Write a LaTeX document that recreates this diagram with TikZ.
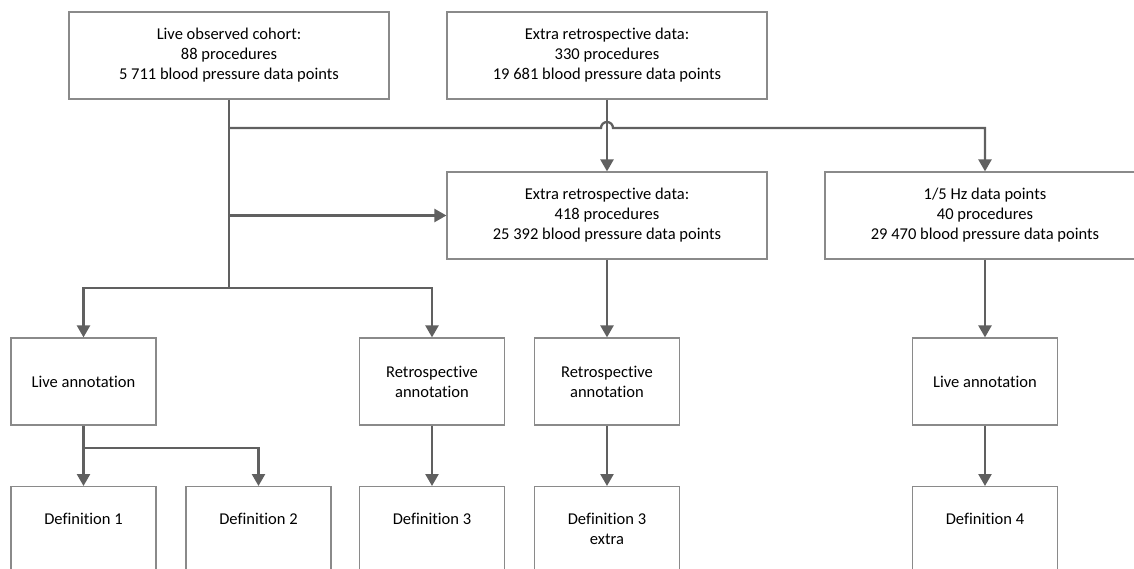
\documentclass[tikz,border=0pt]{standalone}
\usepackage{fontspec}
\setmainfont{Carlito}[Ligatures={NoCommon,NoRequired}]
\usetikzlibrary{arrows.meta}

\definecolor{boxgray}{HTML}{8A8A8A}
\definecolor{linegray}{HTML}{606060}

\tikzset{
	bigbox/.style={draw=boxgray, line width=0.7pt, minimum width=6.4cm, minimum height=1.74cm, align=center, inner sep=0pt, font=\fontsize{9.4}{11.4}\selectfont},
	smallbox/.style={bigbox, minimum width=2.9cm},
	defbox/.style={smallbox, anchor=north, text height=0.76cm, text depth=1.3cm},
	conn/.style={draw=linegray, line width=1.3pt},
	connarrow/.style={conn, -{Triangle[width=7.4pt,length=6.8pt]}}
}

\begin{document}
\begin{tikzpicture}
		\useasboundingbox (0, 0) rectangle (22.68, -11.38);
		
		\node[bigbox] (cohort) at (4.58, -1.11) {Live observed cohort:\\88 procedures\\5 711 blood pressure data points};
		\node[bigbox] (extra) at (12.14, -1.11) {Extra retrospective data:\\330 procedures\\19 681 blood pressure data points};
		\node[bigbox] (merged) at (12.14, -4.31) {Extra retrospective data:\\418 procedures\\25 392 blood pressure data points};
		\node[bigbox] (hz) at (19.70, -4.31) {1/5 Hz data points\\40 procedures\\29 470 blood pressure data points};
		
		\node[smallbox] (liveann) at (1.67, -7.63) {Live annotation};
		\node[smallbox] (retroann) at (8.64, -7.63) {Retrospective\\annotation};
		\node[smallbox] (retroannx) at (12.14, -7.63) {Retrospective\\annotation};
		\node[smallbox] (liveannhz) at (19.70, -7.63) {Live annotation};
		
		\node[defbox] (def1) at (1.67, -9.72) {Definition 1};
		\node[defbox] (def2) at (5.17, -9.72) {Definition 2};
		\node[defbox] (def3) at (8.64, -9.72) {Definition 3};
		\node[defbox, text height=1.16cm, text depth=0.9cm] (def3x) at (12.14, -9.72) {Definition 3\\extra};
		\node[defbox] (def4) at (19.70, -9.72) {Definition 4};
		
		\coordinate (hop) at (12.14, -2.56);
		\coordinate (split) at (4.58, -5.76);
		\coordinate (branch) at (1.67, -8.96);
		
		% from the live cohort
		\draw[conn] (cohort.south) -- (split);
		\draw[connarrow] (split) -| (liveann.north);
		\draw[connarrow] (split) -| (retroann.north);
		\draw[connarrow] (cohort.south |- merged.west) -- (merged.west);
		\draw[connarrow] (cohort.south |- hop) -- ([xshift=-0.12cm]hop) arc[start angle=180, end angle=0, radius=0.12cm] -| (hz.north);
		
		\draw[connarrow] (extra) -- (merged);
		\draw[connarrow] (merged) -- (retroannx);
		\draw[connarrow] (hz) -- (liveannhz);
		
		% definitions
		\draw[connarrow] (liveann) -- (def1);
		\draw[connarrow] (branch) -| (def2.north);
		\draw[connarrow] (retroann) -- (def3);
		\draw[connarrow] (retroannx) -- (def3x);
		\draw[connarrow] (liveannhz) -- (def4);
	\end{tikzpicture}
\end{document}
